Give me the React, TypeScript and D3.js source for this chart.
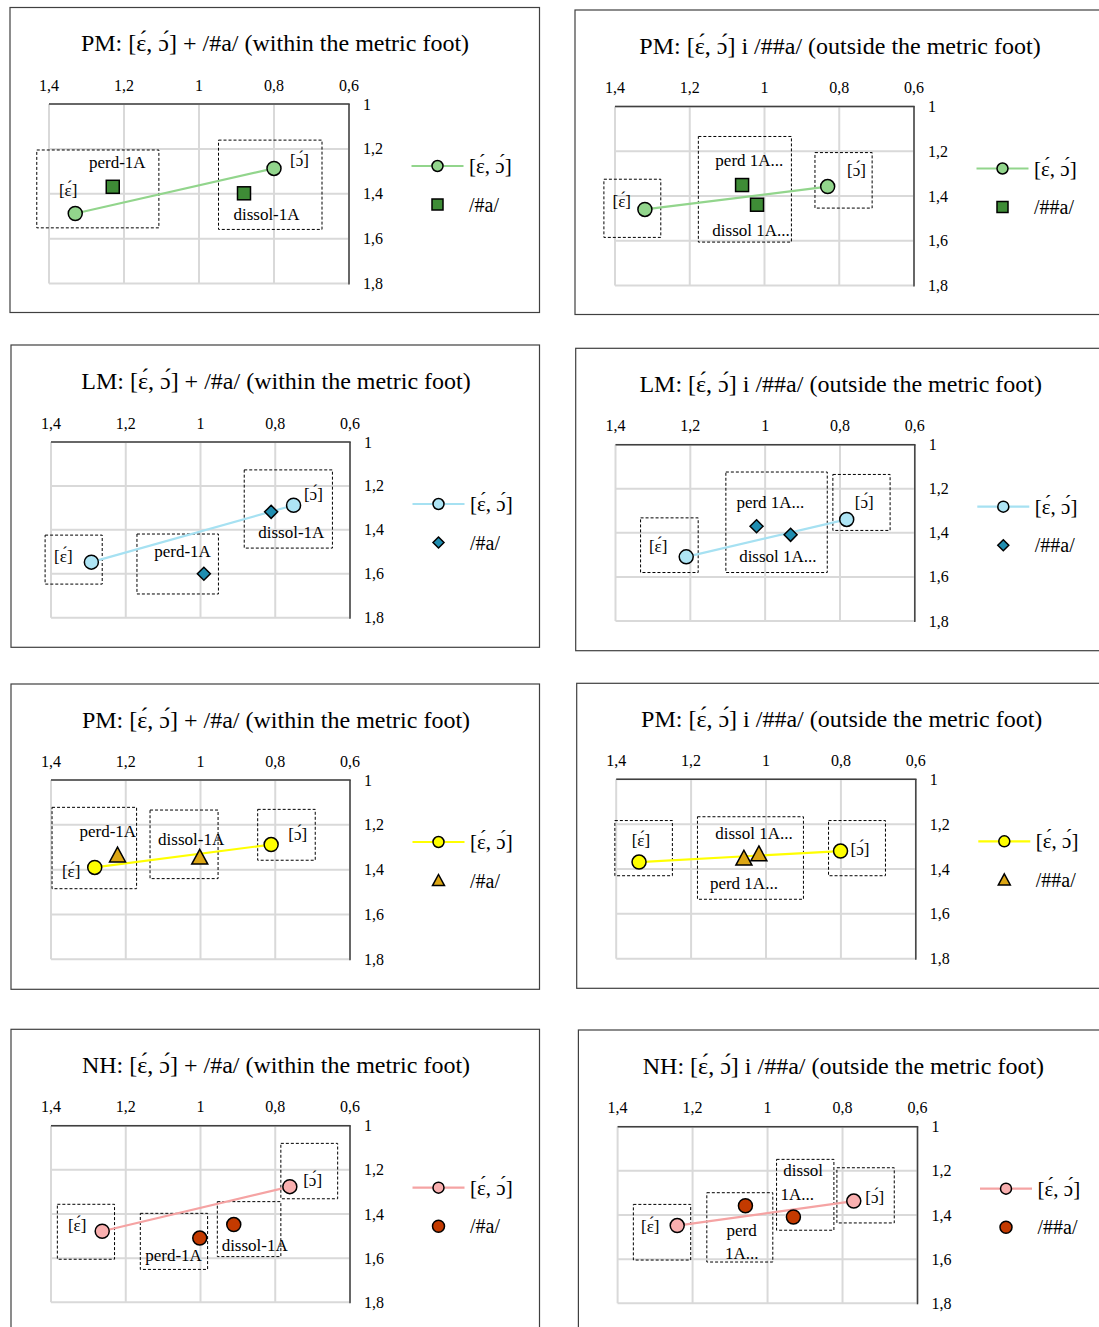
import React from 'react';
import * as d3 from 'd3';

// ---------- data ----------
const titles = [
  'PM: [ɛ́, ɔ́] + /#a/ (within the metric foot)',
  'PM: [ɛ́, ɔ́] i /##a/ (outside the metric foot)',
  'LM: [ɛ́, ɔ́] + /#a/ (within the metric foot)',
  'LM: [ɛ́, ɔ́] i /##a/ (outside the metric foot)',
  'PM: [ɛ́, ɔ́] + /#a/ (within the metric foot)',
  'PM: [ɛ́, ɔ́] i /##a/ (outside the metric foot)',
  'NH: [ɛ́, ɔ́] + /#a/ (within the metric foot)',
  'NH: [ɛ́, ɔ́] i /##a/ (outside the metric foot)',
];
const xTicks = [1.4, 1.2, 1, 0.8, 0.6];
const yTicks = [1, 1.2, 1.4, 1.6, 1.8];
const vowelSeriesName = '[ɛ́, ɔ́]';
const aSeriesNames = ['/#a/', '/##a/', '/#a/', '/##a/', '/#a/', '/##a/', '/#a/', '/##a/'];

// vowel series: [ɛ́, ɔ́]
const vowelX = [
  [1.330, 0.800], [1.320, 0.831], [1.292, 0.751], [1.211, 0.782],
  [1.283, 0.811], [1.339, 0.801], [1.263, 0.761], [1.241, 0.770],
];
const vowelY = [
  [1.488, 1.287], [1.460, 1.358], [1.547, 1.288], [1.509, 1.339],
  [1.390, 1.288], [1.369, 1.320], [1.478, 1.276], [1.448, 1.337],
];
// /a/ series: [perd, dissol]
const aX = [
  [1.230, 0.880], [1.060, 1.020], [0.991, 0.811], [1.023, 0.932],
  [1.222, 1.002], [1.059, 1.019], [1.002, 0.911], [1.059, 0.931],
];
const aY = [
  [1.369, 1.398], [1.351, 1.439], [1.600, 1.318], [1.370, 1.409],
  [1.335, 1.345], [1.352, 1.333], [1.509, 1.448], [1.358, 1.409],
];

// data labels (text centre in data units)
const labelText = [
  ['[ɛ́]', 'perd-1A', '[ɔ́]', 'dissol-1A'],
  ['[ɛ́]', 'perd 1A...', 'dissol 1A...', '[ɔ́]'],
  ['[ɛ́]', 'perd-1A', 'dissol-1A', '[ɔ́]'],
  ['[ɛ́]', 'perd 1A...', 'dissol 1A...', '[ɔ́]'],
  ['perd-1A', '[ɛ́]', 'dissol-1A', '[ɔ́]'],
  ['[ɛ́]', 'dissol 1A...', 'perd 1A...', '[ɔ́]'],
  ['[ɛ́]', 'perd-1A', 'dissol-1A', '[ɔ́]'],
  ['[ɛ́]', 'perd', '1A...', 'dissol', '1A...', '[ɔ́]'],
];
const labelX = [
  [1.349, 1.218, 0.732, 0.820],
  [1.382, 1.0405, 1.036, 0.754],
  [1.367, 1.048, 0.757, 0.698],
  [1.286, 0.986, 0.966, 0.735],
  [1.248, 1.346, 1.025, 0.740],
  [1.334, 1.032, 1.059, 0.749],
  [1.330, 1.072, 0.855, 0.700],
  [1.313, 1.069, 1.069, 0.905, 0.921, 0.714],
];
const labelY = [
  [1.384, 1.262, 1.254, 1.492],
  [1.425, 1.243, 1.552, 1.288],
  [1.521, 1.498, 1.412, 1.241],
  [1.464, 1.261, 1.509, 1.261],
  [1.228, 1.409, 1.265, 1.242],
  [1.275, 1.241, 1.464, 1.315],
  [1.450, 1.586, 1.543, 1.249],
  [1.453, 1.471, 1.574, 1.199, 1.305, 1.320],
];
// dashed annotation boxes [xFrom, xTo, yFrom, yTo] in data units
const boxes = [
  [[1.4326, 1.107, 1.205, 1.552], [0.948, 0.672, 1.161, 1.559]],
  [[1.4297, 1.2775, 1.325, 1.585], [1.177, 0.928, 1.134, 1.606], [0.865, 0.712, 1.206, 1.454]],
  [[1.4158, 1.263, 1.424, 1.647], [1.170, 0.952, 1.419, 1.692], [0.883, 0.647, 1.127, 1.483]],
  [[1.333, 1.179, 1.332, 1.580], [1.105, 0.834, 1.124, 1.580], [0.819, 0.666, 1.135, 1.389]],
  [[1.3972, 1.171, 1.122, 1.485], [1.135, 0.953, 1.134, 1.440], [0.847, 0.693, 1.131, 1.358]],
  [[1.4036, 1.250, 1.184, 1.430], [1.183, 0.900, 1.167, 1.535], [0.833, 0.681, 1.184, 1.430]],
  [[1.383, 1.230, 1.356, 1.605], [1.161, 0.981, 1.397, 1.651], [0.955, 0.785, 1.344, 1.593], [0.785, 0.633, 1.080, 1.331]],
  [[1.358, 1.205, 1.352, 1.604], [1.162, 0.986, 1.299, 1.613], [0.976, 0.823, 1.148, 1.469], [0.815, 0.662, 1.186, 1.436]],
];

// ---------- layout & style ----------
const layouts = [
  { L: 10, T: 7.5, W: 529.5, H: 305, x0: 49, x1: 349, y0: 104, y1: 283.5 },
  { L: 575, T: 10, W: 530, H: 304.5, x0: 615, x1: 914, y0: 106.5, y1: 285.5 },
  { L: 11, T: 345, W: 528.5, H: 302.3, x0: 51, x1: 350, y0: 442, y1: 617.7 },
  { L: 575.7, T: 348.3, W: 530, H: 302.4, x0: 615.5, x1: 914.8, y0: 444.7, y1: 621 },
  { L: 11, T: 684, W: 528.5, H: 305.3, x0: 51, x1: 350, y0: 780, y1: 959.3 },
  { L: 576.7, T: 683.3, W: 530, H: 305, x0: 616.2, x1: 915.8, y0: 779.3, y1: 958.7 },
  { L: 11, T: 1029.3, W: 528.5, H: 310, x0: 51, x1: 350, y0: 1125.7, y1: 1302.3 },
  { L: 578.4, T: 1030, W: 530, H: 310, x0: 617.6, x1: 917.5, y0: 1126.7, y1: 1303.3 },
];
const rowStyles = [
  { line: '#92D58C', fill: '#92D58C', aFill: '#3E8C36', shape: 'square' },
  { line: '#A6E1F2', fill: '#AEE5F5', aFill: '#1F8DB0', shape: 'diamond' },
  { line: '#FFFF00', fill: '#FFFF00', aFill: '#DCA614', shape: 'triangle' },
  { line: '#F5A3A3', fill: '#F9AFAF', aFill: '#C33A00', shape: 'circle' },
];
const FONT = '"Liberation Serif", "Times New Roman", Times, serif';

const fmt = (v: number) => d3.format('~g')(v).replace('.', ',');

function Marker({ shape, cx, cy, s, fill }: { shape: string; cx: number; cy: number; s: number; fill: string }) {
  const common = { fill, stroke: '#000', strokeWidth: 1.5 };
  if (shape === 'circle') return <circle cx={cx} cy={cy} r={s} {...common} />;
  if (shape === 'square') return <rect x={cx - s} y={cy - s} width={2 * s} height={2 * s} {...common} />;
  if (shape === 'diamond') {
    const p = d3.path();
    p.moveTo(cx, cy - s); p.lineTo(cx + s, cy); p.lineTo(cx, cy + s); p.lineTo(cx - s, cy); p.closePath();
    return <path d={p.toString()} {...common} />;
  }
  const p = d3.path();
  p.moveTo(cx, cy - s); p.lineTo(cx + s, cy + s * 0.85); p.lineTo(cx - s, cy + s * 0.85); p.closePath();
  return <path d={p.toString()} {...common} strokeLinejoin="miter" />;
}

function Panel({ i }: { i: number }) {
  const lay = layouts[i];
  const st = rowStyles[Math.floor(i / 2)];
  const x = d3.scaleLinear().domain([1.4, 0.6]).range([lay.x0, lay.x1]);
  const y = d3.scaleLinear().domain([1, 1.8]).range([lay.y0, lay.y1]);
  const vpts: [number, number][] = vowelX[i].map((v, k) => [x(v), y(vowelY[i][k])]);
  const apts: [number, number][] = aX[i].map((v, k) => [x(v), y(aY[i][k])]);
  const lineD = d3.line()(vpts) || '';
  const aSize = st.shape === 'circle' ? 7 : st.shape === 'square' ? 6.5 : st.shape === 'diamond' ? 6.5 : 8;
  const lgX = lay.x1 + 88.5;
  const lgY1 = lay.y0 + 62;
  const lgY2 = lay.y0 + 100.5;
  const lgSize = st.shape === 'circle' ? 6 : st.shape === 'square' ? 5.5 : st.shape === 'diamond' ? 5.5 : 6;
  return (
    <g>
      <rect x={lay.L} y={lay.T} width={lay.W} height={lay.H} fill="#fff" stroke="#404040" strokeWidth={1.2} />
      <text x={lay.L + 265} y={lay.T + 35.5} textAnchor="middle" dominantBaseline="central" fontFamily={FONT} fontSize={24} fill="#000">
        {titles[i]}
      </text>
      {/* grid */}
      {xTicks.map((t) => (
        <line key={'gx' + t} x1={x(t)} x2={x(t)} y1={lay.y0} y2={lay.y1} stroke="#D9D9D9" strokeWidth={2} />
      ))}
      {yTicks.map((t) => (
        <line key={'gy' + t} x1={lay.x0} x2={lay.x1} y1={y(t)} y2={y(t)} stroke="#D9D9D9" strokeWidth={2} />
      ))}
      {/* axes (top and right because of reversed scales) */}
      <line x1={lay.x0} x2={lay.x1 + 0.75} y1={lay.y0} y2={lay.y0} stroke="#404040" strokeWidth={1.5} />
      <line x1={lay.x1} x2={lay.x1} y1={lay.y0} y2={lay.y1 + 1} stroke="#404040" strokeWidth={1.5} />
      {xTicks.map((t) => (
        <text key={'tx' + t} x={x(t)} y={lay.y0 - 19} textAnchor="middle" dominantBaseline="central" fontFamily={FONT} fontSize={16} fill="#000">
          {fmt(t)}
        </text>
      ))}
      {yTicks.map((t) => (
        <text key={'ty' + t} x={lay.x1 + 14} y={y(t)} textAnchor="start" dominantBaseline="central" fontFamily={FONT} fontSize={16} fill="#000">
          {fmt(t)}
        </text>
      ))}
      {/* boxes */}
      {boxes[i].map((b, k) => (
        <rect key={'b' + k} x={Math.min(x(b[0]), x(b[1]))} y={y(b[2])} width={Math.abs(x(b[1]) - x(b[0]))} height={y(b[3]) - y(b[2])}
          fill="none" stroke="#000" strokeWidth={1} strokeDasharray="3,2" />
      ))}
      {/* vowel line + markers */}
      <path d={lineD} fill="none" stroke={st.line} strokeWidth={2.2} />
      {apts.map((p, k) => (
        <Marker key={'a' + k} shape={st.shape} cx={p[0]} cy={p[1]} s={aSize} fill={st.aFill} />
      ))}
      {vpts.map((p, k) => (
        <circle key={'v' + k} cx={p[0]} cy={p[1]} r={7} fill={st.fill} stroke="#000" strokeWidth={1.5} />
      ))}
      {/* labels */}
      {labelText[i].map((t, k) => (
        <text key={'l' + k} x={x(labelX[i][k])} y={y(labelY[i][k])} textAnchor="middle" dominantBaseline="central" fontFamily={FONT} fontSize={17} fill="#000">
          {t}
        </text>
      ))}
      {/* legend */}
      <line x1={lgX - 26} x2={lgX + 26} y1={lgY1} y2={lgY1} stroke={st.line} strokeWidth={2.2} />
      <circle cx={lgX} cy={lgY1} r={5.5} fill={st.fill} stroke="#000" strokeWidth={1.5} />
      <text x={lay.x1 + 120} y={lgY1} dominantBaseline="central" fontFamily={FONT} fontSize={21} fill="#000">{vowelSeriesName}</text>
      <Marker shape={st.shape} cx={lgX} cy={lgY2} s={lgSize} fill={st.aFill} />
      <text x={lay.x1 + 120} y={lgY2} dominantBaseline="central" fontFamily={FONT} fontSize={20} fill="#000">{aSeriesNames[i]}</text>
    </g>
  );
}

export default function App() {
  return (
    <div style={{ position: 'absolute', left: 0, top: 0 }}>
      <svg width={1099} height={1327} viewBox="0 0 1099 1327" style={{ display: 'block', background: '#fff' }}>
        {titles.map((_, i) => (
          <Panel key={i} i={i} />
        ))}
      </svg>
    </div>
  );
}
